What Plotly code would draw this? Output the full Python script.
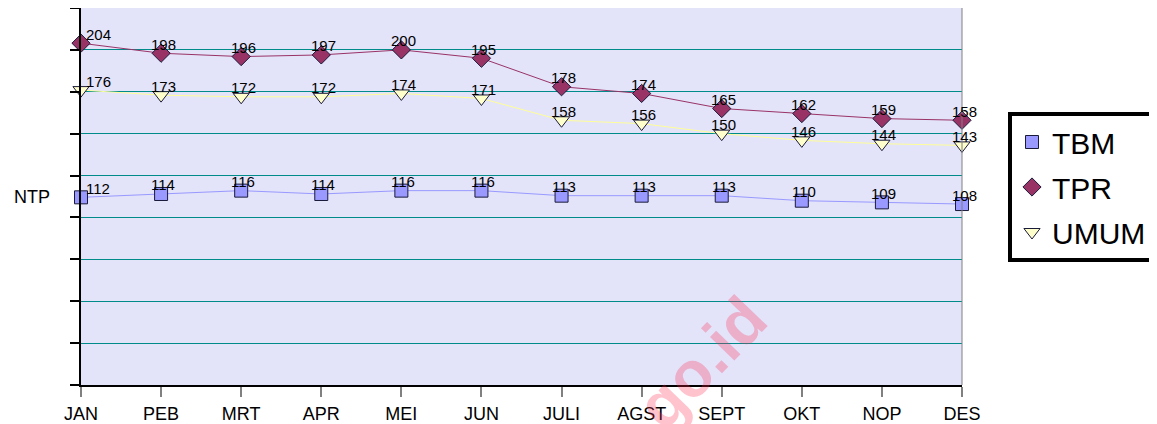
import plotly.graph_objects as go

months = ["JAN", "PEB", "MRT", "APR", "MEI", "JUN", "JULI", "AGST", "SEPT", "OKT", "NOP", "DES"]
tbm = [112, 114, 116, 114, 116, 116, 113, 113, 113, 110, 109, 108]
tpr = [204, 198, 196, 197, 200, 195, 178, 174, 165, 162, 159, 158]
umum = [176, 173, 172, 172, 174, 171, 158, 156, 150, 146, 144, 143]

FONT = "Arial, Liberation Sans, sans-serif"
x_idx = list(range(len(months)))

series = [
    ("TBM", tbm, "square", "#9999FF", "#9999FF", 13),
    ("TPR", tpr, "diamond", "#993366", "#993366", 14),
    ("UMUM", umum, "triangle-down", "#FFFFCC", "#FFFF99", 14),
]

# page body has an 8px margin -> figure origin sits at (8, 8)
OFF = 8
W, H = 1157 - OFF, 424 - OFF
PL, PR, PT, PB = 81, 962, 8, 385  # target plot area in screenshot pixels
ML, MT = PL - OFF, PT - OFF
MR = W - (PR - OFF)
MB = H - (PB - OFF)
PW, PH = PR - PL, PB - PT


def px(xs):
    return (xs - PL) / PW


def py(ys):
    return (PB - ys) / PH


fig = go.Figure()
for name, vals, sym, mcol, lcol, size in series:
    fig.add_trace(go.Scatter(
        x=x_idx, y=vals, name=name, mode="lines",
        line=dict(color=lcol, width=1), showlegend=False,
        cliponaxis=False, hoverinfo="skip", legendgroup=name,
    ))
for name, vals, sym, mcol, lcol, size in series:
    fig.add_trace(go.Scatter(
        x=x_idx, y=vals, name=name, mode="markers",
        marker=dict(symbol=sym, size=size, color=mcol,
                    line=dict(color="#1a1a3a", width=1)),
        cliponaxis=False, legendgroup=name,
    ))

annotations = []
for name, vals, sym, mcol, lcol, size in series:
    for i, v in enumerate(vals):
        annotations.append(dict(
            x=i, y=v, xref="x", yref="y", text=str(v), showarrow=False,
            font=dict(family=FONT, size=15, color="black"),
            xanchor="center", yanchor="middle",
            yshift=9, xshift=(17 if i == 0 else 2),
        ))

annotations.append(dict(
    x=px(12), y=py(197), xref="paper", yref="paper", text="NTP",
    showarrow=False, font=dict(family=FONT, size=18, color="black"),
    xanchor="left", yanchor="middle"))

annotations.append(dict(
    x=px(656), y=py(410), xref="paper", yref="paper",
    text="<b>bps.go.id</b>", showarrow=False, textangle=-46,
    font=dict(family=FONT, size=64, color="rgba(255,40,80,0.28)"),
    xanchor="center", yanchor="middle"))

fig.update_layout(
    width=W, height=H,
    margin=dict(l=ML, r=MR, t=MT, b=MB, autoexpand=False),
    paper_bgcolor="white",
    plot_bgcolor="#E3E3FA",
    font=dict(family=FONT, color="black"),
    showlegend=True,
    legend=dict(
        x=px(1008), y=py(112), xanchor="left", yanchor="top",
        bordercolor="black", borderwidth=4, bgcolor="white",
        font=dict(family=FONT, size=30, color="black"),
        tracegroupgap=3, traceorder="grouped", itemsizing="trace",
    ),
    annotations=annotations,
    shapes=[dict(type="line", xref="paper", yref="paper", x0=1, x1=1, y0=0, y1=1,
                 line=dict(color="#808080", width=1))],
)

fig.update_xaxes(
    tickmode="array", tickvals=x_idx, ticktext=months,
    range=[0, len(months) - 1],
    showgrid=False, zeroline=False,
    showline=True, linecolor="black", linewidth=1.5,
    ticks="outside", ticklen=10, tickcolor="#808080", tickwidth=1.5,
    ticklabelstandoff=2,
    tickfont=dict(family=FONT, size=18, color="black"),
)
fig.update_yaxes(
    range=[0, 225], dtick=25, tick0=0,
    showgrid=True, gridcolor="#008B8B", gridwidth=1,
    zeroline=False, showticklabels=False,
    showline=True, linecolor="black", linewidth=1.5,
    ticks="outside", ticklen=9, tickcolor="black", tickwidth=1.5,
)

fig.write_html("out.html")
